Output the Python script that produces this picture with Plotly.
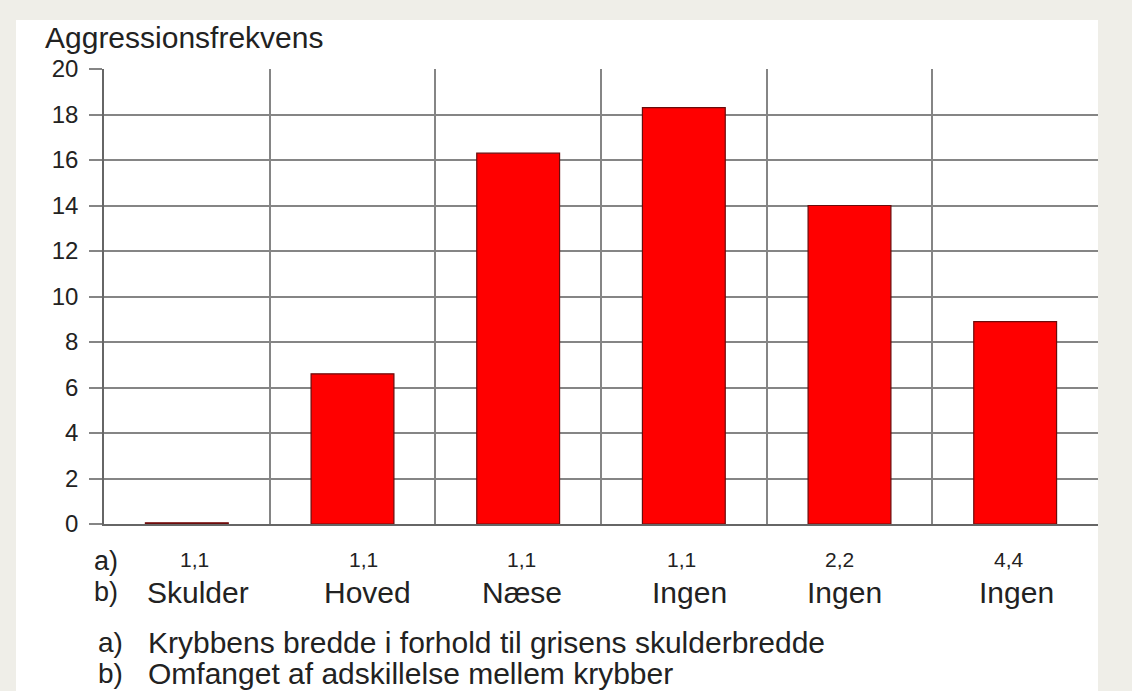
import plotly.graph_objects as go

# ---- data ----
a_labels = ["1,1", "1,1", "1,1", "1,1", "2,2", "4,4"]
b_labels = ["Skulder", "Hoved", "Næse", "Ingen", "Ingen", "Ingen"]
values = [0.05, 6.6, 16.3, 18.3, 14.0, 8.9]
y_ticks = [0, 2, 4, 6, 8, 10, 12, 14, 16, 18, 20]
y_title = "Aggressionsfrekvens"
footer_a = "Krybbens bredde i forhold til grisens skulderbredde"
footer_b = "Omfanget af adskillelse mellem krybber"

# small horizontal nudges (pixels) of the category labels, as in the original
a_shift = [8, 11, 3, -2, -10, -6]
b_shift = [11, 15, 4, 6, -5, 1]

W, H = 1132, 691
L, R, T, B = 104, 34, 69, 167
PW, PH = W - L - R, H - T - B

def px(xp):
    return (xp - L) / PW

def py(yp):
    return (H - B - yp) / PH

FONT = "Liberation Sans, Arial, sans-serif"
TXT = "#222222"
BEIGE = "#efeee8"

x = list(range(len(values)))

fig = go.Figure()
fig.add_trace(go.Bar(
    x=x, y=values, width=0.5,
    marker=dict(color="#ff0000", line=dict(color="#6a0c0c", width=1.2)),
    hoverinfo="skip",
))

fig.update_layout(
    width=W, height=H,
    margin=dict(l=L, r=R, t=T, b=B),
    paper_bgcolor=BEIGE,
    plot_bgcolor="white",
    showlegend=False,
    font=dict(family=FONT, color=TXT),
)

fig.update_xaxes(
    range=[-0.5, 5.5],
    tickvals=[0.5, 1.5, 2.5, 3.5, 4.5],
    showticklabels=False,
    ticks="",
    showgrid=True, gridcolor="#858585", gridwidth=1.5,
    showline=True, linecolor="#666666", linewidth=2,
    zeroline=False,
)
fig.update_yaxes(
    range=[0, 20],
    tickvals=y_ticks,
    ticks="outside", ticklen=13, tickcolor="#858585", tickwidth=1.5,
    ticklabelstandoff=6,
    tickfont=dict(family=FONT, size=24, color=TXT),
    showgrid=True, gridcolor="#858585", gridwidth=1.5,
    showline=True, linecolor="#666666", linewidth=1.5,
    zeroline=False,
)

# white panel on beige background
fig.add_shape(type="rect", xref="paper", yref="paper",
              x0=px(16), x1=px(1098), y0=py(H + 5), y1=py(20),
              fillcolor="white", line=dict(width=0), layer="below")

ann = []
ann.append(dict(text=y_title, xref="paper", yref="paper", x=px(43), y=py(37),
                xanchor="left", yanchor="middle", showarrow=False,
                font=dict(size=30, family=FONT, color=TXT)))
ann.append(dict(text="a)", xref="paper", yref="paper", x=px(92), y=py(561),
                xanchor="left", yanchor="middle", showarrow=False,
                font=dict(size=27, family=FONT, color=TXT)))
ann.append(dict(text="b)", xref="paper", yref="paper", x=px(92), y=py(592),
                xanchor="left", yanchor="middle", showarrow=False,
                font=dict(size=27, family=FONT, color=TXT)))
for xi, a, b, sa, sb in zip(x, a_labels, b_labels, a_shift, b_shift):
    ann.append(dict(text=a, xref="x", yref="paper", x=xi, y=py(559), xshift=sa,
                    xanchor="center", yanchor="middle", showarrow=False,
                    font=dict(size=21, family=FONT, color=TXT)))
    ann.append(dict(text=b, xref="x", yref="paper", x=xi, y=py(592), xshift=sb,
                    xanchor="center", yanchor="middle", showarrow=False,
                    font=dict(size=30, family=FONT, color=TXT)))
for yy, lab, txt in [(642, "a)", footer_a), (673, "b)", footer_b)]:
    ann.append(dict(text=lab, xref="paper", yref="paper", x=px(96), y=py(yy),
                    xanchor="left", yanchor="middle", showarrow=False,
                    font=dict(size=28, family=FONT, color=TXT)))
    ann.append(dict(text=txt, xref="paper", yref="paper", x=px(146), y=py(yy),
                    xanchor="left", yanchor="middle", showarrow=False,
                    font=dict(size=30, family=FONT, color=TXT)))
fig.update_layout(annotations=ann)

fig.write_html(
    "out.html",
    config={"displayModeBar": False},
    post_script="document.body.style.margin='0px';document.body.style.overflow='hidden';",
)
